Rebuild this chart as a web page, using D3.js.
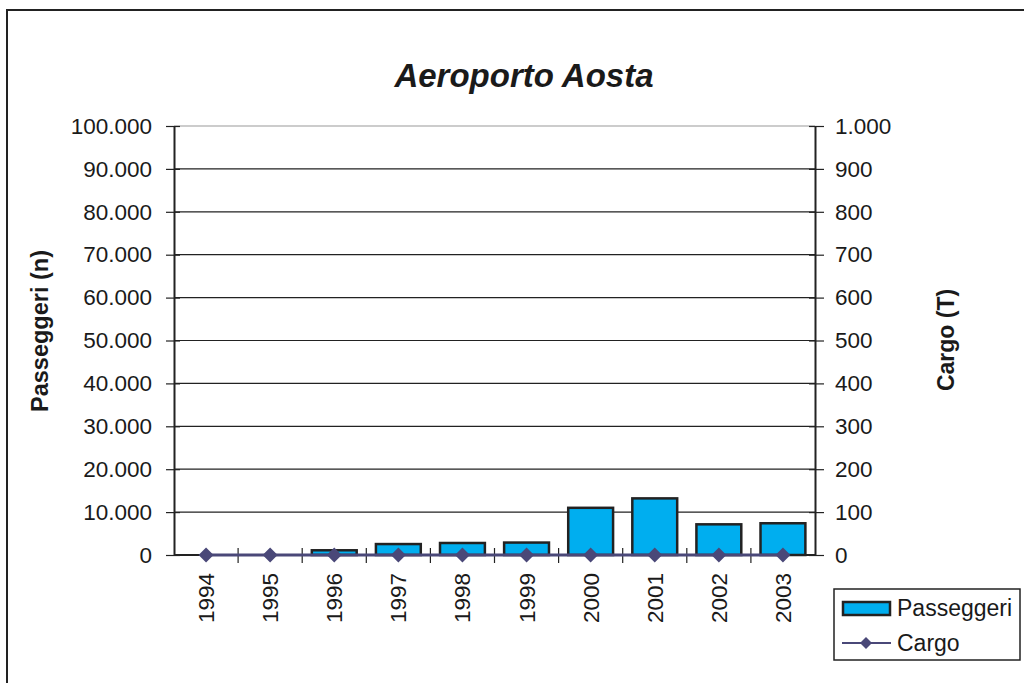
<!DOCTYPE html>
<html>
<head>
<meta charset="utf-8">
<script src="https://cdn.jsdelivr.net/npm/d3@7"></script>
<style>
  html, body { margin: 0; padding: 0; background: #fff; }
  svg { display: block; font-family: "Liberation Sans", Arial, sans-serif; }
</style>
</head>
<body>
<svg id="chart" width="1024" height="683"></svg>
<script>
// Aosta airport traffic, 1994-2003
const years = ["1994", "1995", "1996", "1997", "1998", "1999", "2000", "2001", "2002", "2003"];
const passeggeri = [0, 0, 1100, 2550, 2800, 2900, 11000, 13200, 7150, 7400];
const cargo = [0, 0, 0, 0, 0, 0, 0, 0, 0, 0];
const leftTicks = [0, 10000, 20000, 30000, 40000, 50000, 60000, 70000, 80000, 90000, 100000];
const rightTicks = [0, 100, 200, 300, 400, 500, 600, 700, 800, 900, 1000];

const svg = d3.select("#chart");
const plot = { left: 174, right: 815, top: 126, bottom: 555 };
const ink = "#1a1a1a";
const tickFont = 22.5;

// thousands separator with a dot
const fmt = d => d3.format(",")(d).replace(/,/g, ".");

const x = d3.scaleBand().domain(years).range([plot.left, plot.right]).paddingInner(0.3).paddingOuter(0.15);
const step = x.step();
const yL = d3.scaleLinear().domain([0, 100000]).range([plot.bottom, plot.top]);
const yR = d3.scaleLinear().domain([0, 1000]).range([plot.bottom, plot.top]);

// outer frame
svg.append("rect").attr("x", 7).attr("y", 10).attr("width", 1030).attr("height", 700)
  .attr("fill", "none").attr("stroke", "#222").attr("stroke-width", 2);

// title
svg.append("text").attr("x", 524).attr("y", 87).attr("text-anchor", "middle")
  .attr("font-size", 33).attr("font-weight", "bold").attr("font-style", "italic")
  .attr("fill", ink).text("Aeroporto Aosta");

// horizontal gridlines
svg.append("g").selectAll("line").data(leftTicks.filter(d => d > 0)).join("line")
  .attr("x1", plot.left).attr("x2", plot.right)
  .attr("y1", d => yL(d)).attr("y2", d => yL(d))
  .attr("stroke", d => d === 100000 ? "#999" : "#222").attr("stroke-width", 1.2);

// bars
svg.append("g").selectAll("rect").data(years).join("rect")
  .attr("x", (d, i) => x(d))
  .attr("width", x.bandwidth())
  .attr("y", (d, i) => yL(passeggeri[i]))
  .attr("height", (d, i) => plot.bottom - yL(passeggeri[i]))
  .attr("fill", "#00AEEF").attr("stroke", "#222").attr("stroke-width", 2.5)
  .attr("display", (d, i) => passeggeri[i] > 0 ? null : "none");

// left axis
const leftAxis = d3.axisLeft(yL).tickValues(leftTicks).tickFormat(fmt).tickSizeInner(8).tickSizeOuter(0).tickPadding(14);
const gL = svg.append("g").attr("transform", `translate(${plot.left},0)`).call(leftAxis);
gL.select(".domain").attr("stroke", "#222").attr("stroke-width", 2);
gL.selectAll(".tick line").attr("stroke", "#222").attr("stroke-width", 1.2).attr("x2", -8).attr("x1", 6);
gL.selectAll(".tick text").attr("font-size", tickFont).attr("fill", ink).attr("font-family", "Liberation Sans, Arial, sans-serif");

// right axis
const rightAxis = d3.axisRight(yR).tickValues(rightTicks).tickFormat(fmt).tickSizeInner(8).tickSizeOuter(0).tickPadding(12);
const gR = svg.append("g").attr("transform", `translate(${plot.right},0)`).call(rightAxis);
gR.select(".domain").attr("stroke", "#222").attr("stroke-width", 2);
gR.selectAll(".tick line").attr("stroke", "#222").attr("stroke-width", 1.2).attr("x1", -6).attr("x2", 9);
gR.selectAll(".tick text").attr("font-size", tickFont).attr("fill", ink).attr("font-family", "Liberation Sans, Arial, sans-serif");

// category axis: ticks on band boundaries
const gX = svg.append("g");
gX.append("line").attr("x1", plot.left).attr("x2", plot.right).attr("y1", plot.bottom).attr("y2", plot.bottom)
  .attr("stroke", "#222").attr("stroke-width", 2);
gX.selectAll("line.tk").data(years.slice(1)).join("line").attr("class", "tk")
  .attr("x1", d => x(d) - step * 0.15).attr("x2", d => x(d) - step * 0.15)
  .attr("y1", plot.bottom - 7).attr("y2", plot.bottom + 8)
  .attr("stroke", "#222").attr("stroke-width", 1.2);
gX.selectAll("text").data(years).join("text")
  .attr("transform", d => `translate(${x(d) + x.bandwidth() / 2 + 8},${plot.bottom + 18}) rotate(-90)`)
  .attr("text-anchor", "end").attr("font-size", tickFont).attr("fill", ink).text(d => d);

// cargo line with diamond markers
const cx = d => x(d) + x.bandwidth() / 2;
const line = d3.line().x((d, i) => cx(years[i])).y(d => yR(d));
svg.append("path").datum(cargo).attr("d", line)
  .attr("fill", "none").attr("stroke", "#4A4878").attr("stroke-width", 3);
svg.append("g").selectAll("path").data(cargo).join("path")
  .attr("transform", (d, i) => `translate(${cx(years[i])},${yR(d)})`)
  .attr("d", "M0,-7.5L7.5,0L0,7.5L-7.5,0Z").attr("fill", "#4A4878");

// axis titles
svg.append("text").attr("transform", "translate(48,331) rotate(-90)").attr("text-anchor", "middle")
  .attr("font-size", 23.5).attr("font-weight", "bold").attr("fill", ink).text("Passeggeri (n)");
svg.append("text").attr("transform", "translate(954,340) rotate(-90)").attr("text-anchor", "middle")
  .attr("font-size", 23).attr("font-weight", "bold").attr("fill", ink).text("Cargo (T)");

// legend
const lg = svg.append("g");
lg.append("rect").attr("x", 834).attr("y", 589).attr("width", 186).attr("height", 71)
  .attr("fill", "#fff").attr("stroke", "#222").attr("stroke-width", 1.5);
lg.append("rect").attr("x", 843).attr("y", 602).attr("width", 47).attr("height", 13)
  .attr("fill", "#00AEEF").attr("stroke", "#222").attr("stroke-width", 2.5);
lg.append("text").attr("x", 897).attr("y", 616).attr("font-size", 23).attr("fill", ink).text("Passeggeri");
lg.append("line").attr("x1", 842).attr("x2", 891).attr("y1", 643).attr("y2", 643)
  .attr("stroke", "#4A4878").attr("stroke-width", 2);
lg.append("path").attr("transform", "translate(866,643)").attr("d", "M0,-6L6,0L0,6L-6,0Z").attr("fill", "#4A4878");
lg.append("text").attr("x", 897).attr("y", 651).attr("font-size", 23).attr("fill", ink).text("Cargo");
</script>
</body>
</html>
